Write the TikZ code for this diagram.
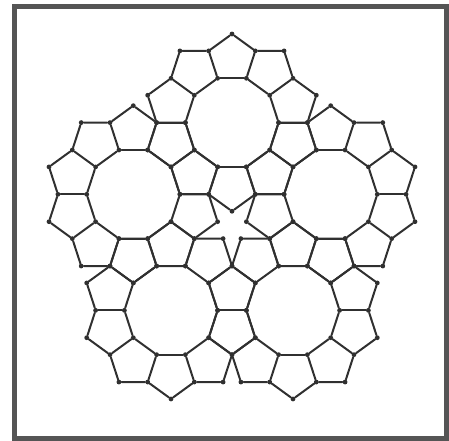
\documentclass[tikz,border=0pt]{standalone}
\definecolor{bondgray}{HTML}{303030}
\definecolor{framegray}{HTML}{555555}
\newcommand{\decR}{1.618034}
\newcommand{\spokeR}{2.618034}
\newcommand{\tipR}{3.077684}
% one decagon with its ring of ten pentagons, centred on coordinate #1
\newcommand{\pentring}[1]{%
  \foreach \j in {0,...,9}{
    \path (#1) ++(36*\j:\decR) node[atom] (#1-d\j) {};
    \path (#1) ++(36*\j:\spokeR) node[atom] (#1-e\j) {};
    \path (#1) ++(36*\j+18:\tipR) node[atom] (#1-a\j) {};
  }
  \foreach \j [evaluate=\j as \n using {int(mod(\j+1,10))}] in {0,...,9}{
    \draw[bond] (#1-d\j) -- (#1-d\n);
    \draw[bond] (#1-d\j) -- (#1-e\j);
    \draw[bond] (#1-e\j) -- (#1-a\j) -- (#1-e\n);
  }%
}

\begin{document}
\begin{tikzpicture}[
  x=21.6pt,
  y=21.6pt,
  atom/.style={circle, fill=bondgray, inner sep=0pt, minimum size=3.6pt},
  bond/.style={draw=bondgray, line width=1.5pt, line cap=round},
  frame/.style={draw=framegray, line width=4pt}
]
  \useasboundingbox (-8.056,-7.451) rectangle (7.535,7.861);
  \draw[frame] (-7.543,-7.365) rectangle (7.455,7.630);

  % ring centres on a pentagon round the middle star
  \coordinate (top) at (0,3.603415);
  \coordinate (left) at (-3.42705,1.11352);
  \coordinate (lowleft) at (-2.11803,-2.91522);
  \coordinate (lowright) at (2.11803,-2.91522);
  \coordinate (right) at (3.42705,1.11352);

  \pentring{top}
  \pentring{left}
  \pentring{lowleft}
  \pentring{lowright}
  \pentring{right}
\end{tikzpicture}
\end{document}
